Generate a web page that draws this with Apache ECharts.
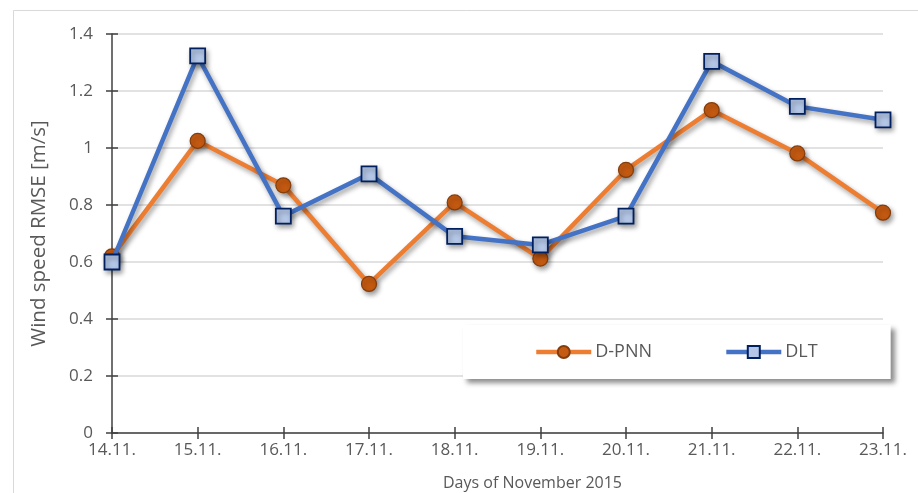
<!DOCTYPE html>
<html>
<head>
<meta charset="utf-8">
<script src="https://cdn.jsdelivr.net/npm/echarts@6/dist/echarts.min.js"></script>
<style>
  html, body { margin: 0; padding: 0; background: #ffffff; }
  #chart { width: 918px; height: 493px; }
</style>
</head>
<body>
<div id="chart"></div>
<script>
// Days of November 2015
const days = ['14.11.', '15.11.', '16.11.', '17.11.', '18.11.', '19.11.', '20.11.', '21.11.', '22.11.', '23.11.'];
// Wind speed RMSE [m/s] per model
const dpnn = [0.62, 1.025, 0.869, 0.523, 0.809, 0.612, 0.923, 1.133, 0.981, 0.773];
const dlt = [0.60, 1.323, 0.761, 0.909, 0.690, 0.660, 0.761, 1.304, 1.146, 1.099];
// Value axis ticks
const yTicks = { min: 0, max: 1.4, interval: 0.2 };

const FONT = '"Open Sans", "Noto Sans", sans-serif';
const TXT = '#595959';
const AXIS = '#404040';

const chart = echarts.init(document.getElementById('chart'), null, { renderer: 'canvas' });

const shadow = {
  shadowColor: 'rgba(0,0,0,0.38)',
  shadowBlur: 5,
  shadowOffsetX: 2,
  shadowOffsetY: 3
};

chart.setOption({
  animation: false,
  backgroundColor: '#ffffff',
  textStyle: { fontFamily: FONT },
  graphic: [{
    type: 'rect',
    shape: { x: 13.5, y: 10.5, width: 1000, height: 1000 },
    style: { fill: 'none', stroke: '#d9d9d9', lineWidth: 1 },
    silent: true,
    z: -10
  }],
  grid: { left: 112, right: 35, top: 34, bottom: 60, outerBoundsMode: 'none', containLabel: false },
  legend: {
    left: 463,
    top: 325,
    orient: 'horizontal',
    backgroundColor: '#ffffff',
    padding: [18, 73, 18, 71],
    itemGap: 72,
    itemWidth: 55,
    itemHeight: 15,
    lineStyle: { width: 4.5 },
    shadowColor: 'rgba(0,0,0,0.45)',
    shadowBlur: 5,
    shadowOffsetX: 4,
    shadowOffsetY: 4,
    textStyle: { color: TXT, fontSize: 18, fontFamily: FONT, padding: [0, 0, 0, -1] },
    data: ['D-PNN', 'DLT']
  },
  xAxis: [{
    type: 'category',
    data: days,
    boundaryGap: false,
    name: 'Days of November 2015',
    nameLocation: 'middle',
    nameGap: 42,
    nameTextStyle: { color: TXT, fontSize: 16, fontFamily: FONT, padding: [0, 0, 0, 70] },
    axisLine: { lineStyle: { color: AXIS, width: 1.5 } },
    axisTick: { show: true, length: 6, inside: false, lineStyle: { color: AXIS, width: 1.5 } },
    axisLabel: { color: TXT, fontSize: 17, fontFamily: FONT, margin: 9 },
    splitLine: { show: false }
  }, {
    type: 'category',
    data: days,
    boundaryGap: false,
    position: 'bottom',
    axisLine: { show: false },
    axisTick: { show: true, length: 6, inside: true, lineStyle: { color: AXIS, width: 1.5 } },
    axisLabel: { show: false },
    splitLine: { show: false }
  }],
  yAxis: [{
    type: 'value',
    min: yTicks.min,
    max: yTicks.max,
    interval: yTicks.interval,
    name: 'Wind speed RMSE [m/s]',
    nameLocation: 'middle',
    nameGap: 62,
    nameTextStyle: { color: TXT, fontSize: 20.5, fontFamily: FONT },
    axisLine: { show: true, lineStyle: { color: AXIS, width: 1.5 } },
    axisTick: { show: true, length: 6, inside: false, lineStyle: { color: AXIS, width: 1.5 } },
    axisLabel: { color: TXT, fontSize: 17, fontFamily: FONT, margin: 19, formatter: v => String(Math.round(v * 10) / 10) },
    splitLine: { show: true, lineStyle: { color: '#d9d9d9', width: 1.5 } }
  }, {
    type: 'value',
    min: yTicks.min,
    max: yTicks.max,
    interval: yTicks.interval,
    position: 'left',
    axisLine: { show: false },
    axisTick: { show: true, length: 6, inside: true, lineStyle: { color: AXIS, width: 1.5 } },
    axisLabel: { show: false },
    splitLine: { show: false }
  }],
  series: [{
    name: 'D-PNN',
    type: 'line',
    data: dpnn,
    xAxisIndex: 0,
    yAxisIndex: 0,
    symbol: 'circle',
    symbolSize: 15,
    z: 3,
    lineStyle: Object.assign({ color: '#ED7D31', width: 4.5 }, shadow),
    itemStyle: Object.assign({ color: '#C55A11', borderColor: '#843C0C', borderWidth: 1.2 }, shadow)
  }, {
    name: 'DLT',
    type: 'line',
    data: dlt,
    xAxisIndex: 0,
    yAxisIndex: 0,
    symbol: 'rect',
    symbolSize: 15,
    z: 4,
    lineStyle: Object.assign({ color: '#4472C4', width: 4.5 }, shadow),
    itemStyle: Object.assign({ color: '#B4C7E7', borderColor: '#002060', borderWidth: 1.8 }, shadow)
  }]
});
</script>
</body>
</html>
